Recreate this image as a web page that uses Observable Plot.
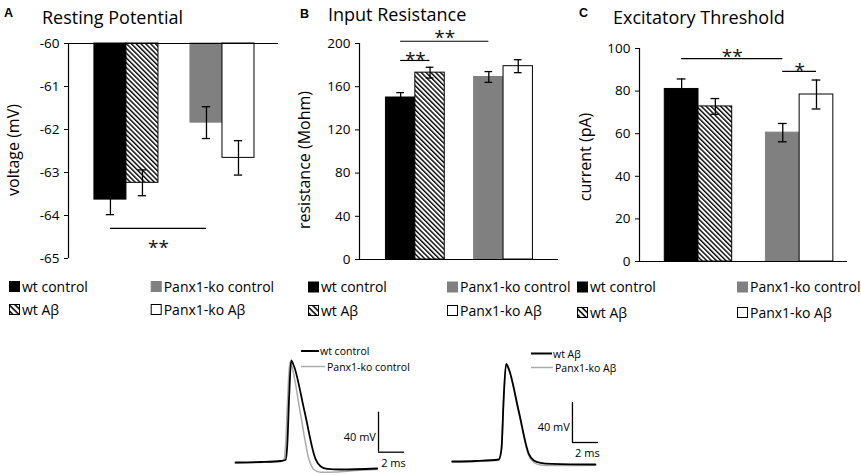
<!DOCTYPE html>
<html><head><meta charset="utf-8">
<script src="https://cdn.jsdelivr.net/npm/d3@7"></script>
<script src="https://cdn.jsdelivr.net/npm/@observablehq/plot@0.6"></script>
<style>
body{margin:0;background:#fff;}
#root{position:relative;width:861px;height:475px;overflow:hidden;background:#fff;font-family:"Open Sans",Lato,sans-serif;}
#root > div.plot{position:absolute;}
</style></head><body><div id="root"></div>
<script>
// ---------- data ----------
const conditions = ["wt control", "wt Aβ", "Panx1-ko control", "Panx1-ko Aβ"];

const restingMean = [-63.63, -63.24, -61.84, -62.66];
const restingSem = [0.35, 0.30, 0.37, 0.40];
const restingTicks = [-65, -64, -63, -62, -61, -60];

const resistanceMean = [150, 173, 169, 179];
const resistanceSem = [4.5, 5, 5, 6];
const resistanceTicks = [0, 40, 80, 120, 160, 200];

const thresholdMean = [81, 72.8, 60.5, 78.4];
const thresholdSem = [4.7, 3.7, 4.3, 6.8];
const thresholdTicks = [0, 20, 40, 60, 80, 100];

const restingSig = [{from: "wt control", to: "Panx1-ko control", level: -64.3, labelLevel: -64.63, label: "**"}];
const resistanceSig = [
  {from: "wt control", to: "Panx1-ko control", level: 202.1, labelLevel: 209.7, label: "**"},
  {from: "wt control", to: "wt Aβ", level: 184.3, labelLevel: 189.8, label: "**"}
];
const thresholdSig = [
  {from: "wt control", to: "Panx1-ko control", level: 95.2, labelLevel: 98.6, label: "**"},
  {from: "Panx1-ko control", to: "Panx1-ko Aβ", level: 89.3, labelLevel: 91.8, label: "*"}
];

// action potential traces: [time (ms), membrane potential (mV)]
const wtControlTrace = [[0,-62],[1.92,-61.5],[3.46,-60.5],[3.85,-59.5],[3.98,-45],[4.13,5],[4.28,40],[4.48,35],[5.31,-11],[6.15,-58.3],[6.54,-65.7],[7.05,-68.3],[8.08,-69],[10.9,-68]];
const koControlTrace = [[0,-62.5],[1.92,-62],[3.54,-61],[3.72,-59.5],[3.85,-45],[4.02,5],[4.18,38.3],[4.31,35],[5.0,-13.5],[5.64,-58.3],[6.02,-69],[6.54,-71.7],[7.69,-71.5],[9.23,-70],[10.9,-69]];
const wtAbTrace = [[0,-61],[1.79,-60.5],[3.58,-59],[3.79,-48.3],[3.97,5],[4.15,36.7],[4.35,31.7],[5.12,-10.8],[5.89,-53.3],[6.28,-60],[6.79,-62.3],[7.69,-63.3],[11.02,-64]];
const koAbTrace = [[0,-61.5],[1.79,-61],[3.58,-59.5],[3.79,-49],[3.97,3],[4.13,36],[4.35,31],[5.12,-12],[5.89,-55],[6.28,-62],[6.79,-64.5],[7.69,-65],[11.02,-64.8]];
const scaleBarLeft = [{t: 11.0, v: -51.7, ms: 2, mv: 40}];
const scaleBarRight = [{t: 9.25, v: -42, ms: 2, mv: 40}];
const traceLegendLeft = ["wt control", "Panx1-ko control"];
const traceLegendRight = ["wt Aβ", "Panx1-ko Aβ"];

// ---------- styles ----------
const fills = {"wt control": "black", "wt Aβ": "url(#hatch)", "Panx1-ko control": "#808080", "Panx1-ko Aβ": "white"};
const strokes = {"wt control": "black", "wt Aβ": "black", "Panx1-ko control": "#808080", "Panx1-ko Aβ": "black"};
const FONT = "'Open Sans', Lato, sans-serif";

const root = document.getElementById("root");

function place(node, left, top) {
  const d = document.createElement("div");
  d.className = "plot";
  d.style.left = left + "px";
  d.style.top = top + "px";
  d.appendChild(node);
  root.appendChild(d);
}

function barPanel(cfg) {
  const rows = conditions.map((c, i) => ({cond: c, pos: Math.floor(i / 2) * 3 + (i % 2) + 1, v: cfg.mean[i], e: cfg.sem[i]}));
  const posOf = c => rows.find(r => r.cond === c).pos;
  const sig = cfg.sig.map(s => ({...s, x1: posOf(s.from), x2: posOf(s.to)}));
  return Plot.plot({
    width: cfg.width, height: cfg.height,
    marginLeft: cfg.ml, marginRight: cfg.mr, marginTop: cfg.mt, marginBottom: cfg.mb,
    x: {domain: cfg.xDomain, axis: null},
    y: {domain: cfg.yDomain, ticks: cfg.ticks, tickFormat: d => String(d), tickSize: 4, tickPadding: 5, label: null},
    color: {type: "identity"},
    style: {fontFamily: FONT, fontSize: "13.5px", color: "black", background: "transparent", overflow: "visible"},
    marks: [
      Plot.rectY(rows, {x1: d => d.pos - 0.5, x2: d => d.pos + 0.5, y1: cfg.base, y2: "v", fill: d => fills[d.cond], stroke: d => strokes[d.cond], strokeWidth: 1}),
      Plot.ruleX(rows, {x: "pos", y1: d => d.v - d.e, y2: d => d.v + d.e, stroke: "black", strokeWidth: 1.3}),
      Plot.ruleY(rows, {y: d => d.v - d.e, x1: d => d.pos - 0.13, x2: d => d.pos + 0.13, stroke: "black", strokeWidth: 1.3}),
      Plot.ruleY(rows, {y: d => d.v + d.e, x1: d => d.pos - 0.13, x2: d => d.pos + 0.13, stroke: "black", strokeWidth: 1.3}),
      Plot.ruleY([cfg.base], {stroke: "black", strokeWidth: 1.2}),
      Plot.ruleX([cfg.xDomain[0]], {stroke: "black", strokeWidth: 1.2}),
      Plot.ruleY(sig, {y: "level", x1: "x1", x2: "x2", stroke: "black", strokeWidth: 1.2}),
      Plot.text(sig, {x: d => (d.x1 + d.x2) / 2, y: "labelLevel", text: "label", fontSize: 19, dy: 5, fill: "#111"})
    ]
  });
}

place(barPanel({mean: restingMean, sem: restingSem, ticks: restingTicks, sig: restingSig, base: -60,
  yDomain: [-65, -60], xDomain: [-0.31, 6.25], width: 290, height: 270, ml: 68, mr: 12, mt: 43, mb: 12}), 0, 0);
place(barPanel({mean: resistanceMean, sem: resistanceSem, ticks: resistanceTicks, sig: resistanceSig, base: 0,
  yDomain: [0, 200], xDomain: [-0.4, 6.37], width: 290, height: 270, ml: 69, mr: 22, mt: 43, mb: 11}), 290, 0);
place(barPanel({mean: thresholdMean, sem: thresholdSem, ticks: thresholdTicks, sig: thresholdSig, base: 0,
  yDomain: [0, 100], xDomain: [-0.25, 5.92], width: 291, height: 270, ml: 69, mr: 14, mt: 48, mb: 9}), 570, 0);

function tracePlot(cfg) {
  const toObj = arr => arr.map(([t, v]) => ({t, v}));
  return Plot.plot({
    width: cfg.width, height: cfg.height, margin: 0,
    x: {domain: cfg.xDomain, axis: null},
    y: {domain: [-75, 55], axis: null},
    style: {fontFamily: FONT, fontSize: "11px", color: "black", background: "transparent", overflow: "visible"},
    marks: [
      Plot.line(toObj(cfg.gray), {x: "t", y: "v", stroke: "#ababab", strokeWidth: 1.5, curve: "monotone-x"}),
      Plot.line(toObj(cfg.black), {x: "t", y: "v", stroke: "black", strokeWidth: 1.8, curve: "monotone-x"}),
      Plot.ruleX(cfg.bar, {x: "t", y1: "v", y2: d => d.v + d.mv, stroke: "black", strokeWidth: 1.3}),
      Plot.ruleY(cfg.bar, {y: "v", x1: "t", x2: d => d.t + d.ms, stroke: "black", strokeWidth: 1.3}),
      Plot.text(cfg.bar, {x: d => d.t - 0.2, y: d => d.v + 15, text: d => `${d.mv} mV`, textAnchor: "end", fill: "black"}),
      Plot.text(cfg.bar, {x: d => d.t + 1.15, y: d => d.v - 11, text: d => `${d.ms} ms`, fill: "black"})
    ]
  });
}

place(tracePlot({black: wtControlTrace, gray: koControlTrace, bar: scaleBarLeft, width: 180, height: 130, xDomain: [-0.385, 13.46]}), 230, 345);
place(tracePlot({black: wtAbTrace, gray: koAbTrace, bar: scaleBarRight, width: 190, height: 130, xDomain: [-0.515, 14.1]}), 445, 345);

// ---------- overlay: titles, axis labels, legends ----------
const ov = d3.select(root).append("svg")
  .attr("width", 861).attr("height", 475)
  .style("position", "absolute").style("left", "0px").style("top", "0px")
  .style("pointer-events", "none").style("font-family", FONT);

const defs = ov.append("defs");
const pat = defs.append("pattern").attr("id", "hatch").attr("patternUnits", "userSpaceOnUse")
  .attr("width", 3.4).attr("height", 3.4).attr("patternTransform", "rotate(-45)");
pat.append("rect").attr("width", 3.4).attr("height", 3.4).attr("fill", "white");
pat.append("line").attr("x1", 0.7).attr("y1", 0).attr("x2", 0.7).attr("y2", 3.4).attr("stroke", "black").attr("stroke-width", 1.4);
const patL = defs.append("pattern").attr("id", "hatchLeg").attr("patternUnits", "userSpaceOnUse")
  .attr("width", 4.2).attr("height", 4.2).attr("patternTransform", "rotate(-45)");
patL.append("rect").attr("width", 4.2).attr("height", 4.2).attr("fill", "white");
patL.append("line").attr("x1", 1).attr("y1", 0).attr("x2", 1).attr("y2", 4.2).attr("stroke", "black").attr("stroke-width", 1.6);

const panels = [
  {letter: "A", lx: 4, ly: 16.7, title: "Resting Potential", tx: 42, ty: 24, axis: "voltage (mV)", ax: 13, ay: 150, legX: 9, legCol: 141.7, legRows: [281, 304]},
  {letter: "B", lx: 300, ly: 18.3, title: "Input Resistance", tx: 328, ty: 21, axis: "resistance (Mohm)", ax: 304, ay: 160, legX: 308, legCol: 139, legRows: [281.5, 305]},
  {letter: "C", lx: 579, ly: 16.7, title: "Excitatory Threshold", tx: 613, ty: 24, axis: "current (pA)", ax: 585, ay: 157, legX: 577, legCol: 160, legRows: [281.5, 307]}
];

panels.forEach(p => {
  ov.append("text").attr("x", p.lx).attr("y", p.ly).attr("font-weight", "bold").attr("font-size", 12.5)
    .attr("font-family", "'Liberation Sans', Arial, sans-serif").text(p.letter);
  ov.append("text").attr("x", p.tx).attr("y", p.ty).attr("font-size", 18).text(p.title);
  ov.append("text").attr("transform", `translate(${p.ax},${p.ay}) rotate(-90)`).attr("text-anchor", "middle")
    .attr("dominant-baseline", "central").attr("font-size", 16).text(p.axis);
  conditions.forEach((c, i) => {
    const x = p.legX + (i >= 2 ? p.legCol : 0);
    const y = p.legRows[i % 2];
    const f = c === "wt Aβ" ? "url(#hatchLeg)" : fills[c];
    ov.append("rect").attr("x", x + 0.5).attr("y", y + 0.5).attr("width", 10).attr("height", 10)
      .attr("fill", f).attr("stroke", strokes[c]).attr("stroke-width", 1);
    ov.append("text").attr("x", x + 13).attr("y", y + 10.5).attr("font-size", 14).text(c);
  });
});

// trace legends
[
  {items: traceLegendLeft, x: 301, y: [351, 366.5], tx: [320, 327], len: [18, 24]},
  {items: traceLegendRight, x: 531, y: [353.5, 367.5], tx: [553, 555], len: [21, 22]}
].forEach(L => {
  L.items.forEach((name, i) => {
    ov.append("line").attr("x1", L.x).attr("x2", L.x + L.len[i]).attr("y1", L.y[i]).attr("y2", L.y[i])
      .attr("stroke", i === 0 ? "black" : "#ababab").attr("stroke-width", i === 0 ? 2 : 1.5);
    ov.append("text").attr("x", L.tx[i]).attr("y", L.y[i]).attr("dominant-baseline", "central")
      .attr("font-size", 10.5).text(name);
  });
});
</script></body></html>
